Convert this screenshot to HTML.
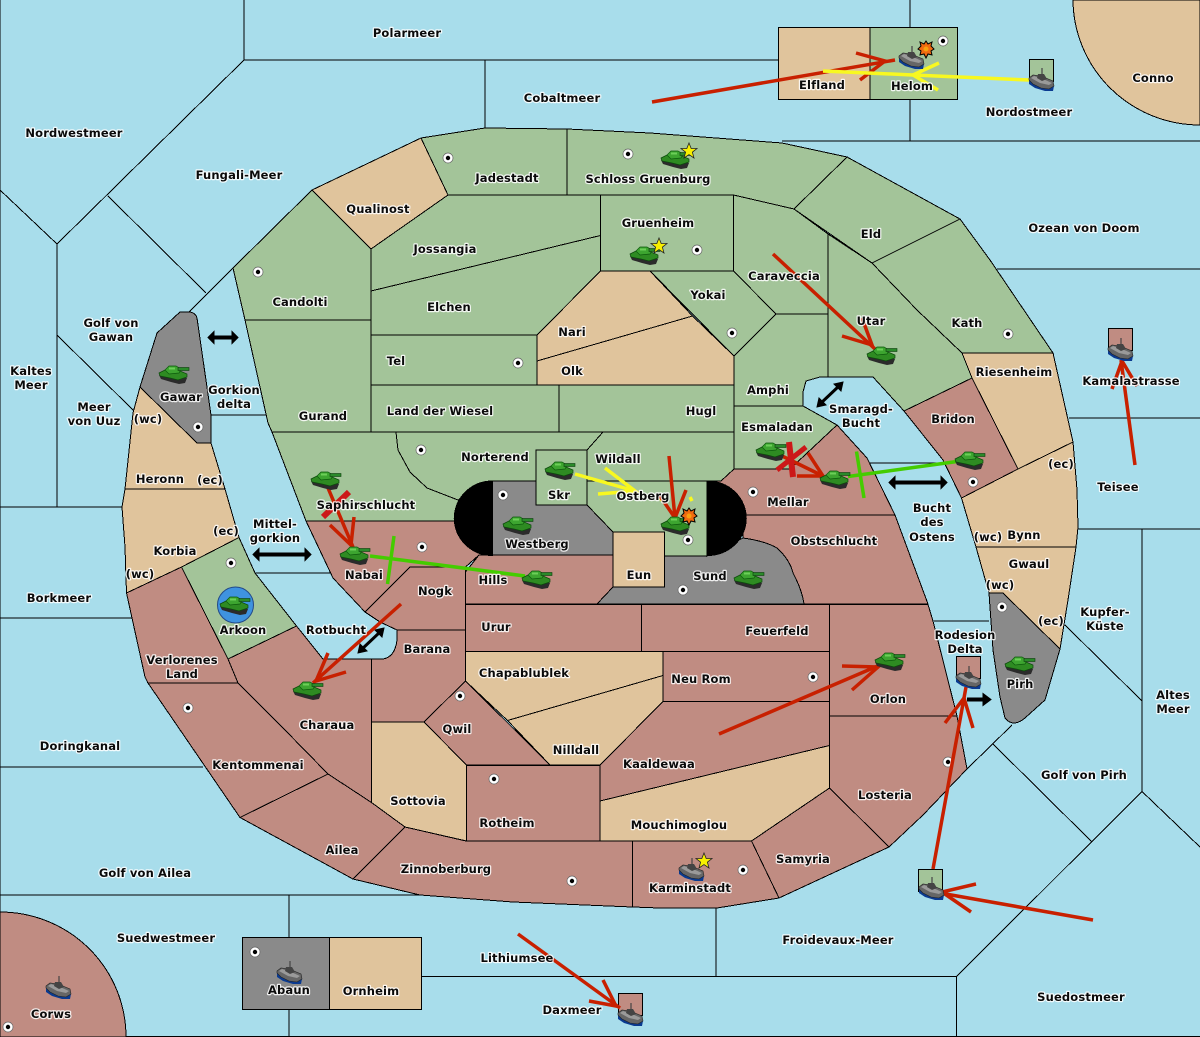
<!DOCTYPE html>
<html><head><meta charset="utf-8"><title>Map</title>
<style>
html,body{margin:0;padding:0;background:#A8DDEB}
svg{display:block}
.m polygon,.m path{stroke:#000;stroke-width:1;stroke-linejoin:miter}
.m{shape-rendering:crispEdges}
.g{fill:#A3C499}.t{fill:#E0C49C}.r{fill:#C08C82}.k{fill:#8A8A8A}.b{fill:#000}
.s line,.s polyline{fill:none;stroke:#000;stroke-width:1}
text{font-family:"DejaVu Sans","Liberation Sans",sans-serif;font-size:11.5px;font-weight:bold;text-anchor:middle;fill:#0a0a0a;stroke:#fff;stroke-width:2.4px;stroke-opacity:.85;paint-order:stroke;stroke-linejoin:round;letter-spacing:.15px}
.red{stroke:#C82000;stroke-width:3.5;fill:none}
.yel{stroke:#F8F820;stroke-width:3.5;fill:none}
.grn{stroke:#44CC00;stroke-width:3.5;fill:none}
</style></head>
<body>
<svg width="1200" height="1037" viewBox="0 0 1200 1037" xmlns="http://www.w3.org/2000/svg">
<defs>
<g id="tank">
<polygon points="-15,1 -13,5 -3,8 5,10 11,9 13,4 0,0" fill="#2b2b2b"/>
<polygon points="-15,-1 -9,-4 6,-3 13,0 13,3 4,6 -4,4 -14,2" fill="#2E8B22" stroke="#0c4a0c" stroke-width=".7"/>
<polygon points="-9,-4 -5,-8 2,-8 7,-5 5,-1 -5,0" fill="#3DA530" stroke="#0c5a0c" stroke-width=".7"/>
<rect x="4" y="-6.5" width="11" height="3" fill="#2A8A2A" stroke="#0c3c0c" stroke-width=".6"/>
<rect x="-5" y="-6.5" width="6" height="2" fill="#6CCF58"/>
</g>
<g id="ship">
<polygon points="-12,0 -12,4 -6,8 4,11 12,11 13,6" fill="#0A3A90"/>
<polygon points="-12,-2 -8,-5 0,-4 12,1 13,6 8,9 0,8 -8,4 -12,0" fill="#666" stroke="#222" stroke-width=".6"/>
<polygon points="-10,-2 -7,-4 2,-1 11,3 8,5 -1,3" fill="#9a9a9a"/>
<polygon points="-3,-6 3,-6 6,-1 1,1 -4,-2" fill="#444"/>
<line x1="1" y1="-12" x2="1" y2="-5" stroke="#444" stroke-width="1.2"/>
</g>
<g id="dot"><circle r="5" fill="#fff" stroke="#666" stroke-width=".7"/><circle r="2.2" fill="#000"/></g>
<polygon id="star" points="0,-8 2.2,-2.5 8,-2.5 3.4,1.2 5,7 0,3.6 -5,7 -3.4,1.2 -8,-2.5 -2.2,-2.5" fill="#F8F000" stroke="#222" stroke-width=".8"/>
<g id="boom"><polygon points="0,-8 2,-5 6,-7 5,-3 8,0 5,2 6,6 2,5 0,9 -2,5 -6,6 -5,2 -8,0 -5,-3 -6,-7 -2,-5" fill="#F06A10" stroke="#000" stroke-width="1"/><circle r="2.5" fill="#F8A010"/></g>
</defs>

<rect width="1200" height="1037" fill="#A8DDEB"/>

<!-- sea borders -->
<g class="s m">
<polyline points="244,0 244,60 778,60"/><line x1="244" y1="60" x2="57" y2="244"/>
<line x1="485" y1="60" x2="485" y2="128"/>
<line x1="910" y1="0" x2="910" y2="27"/><line x1="910" y1="99" x2="910" y2="141"/>
<polyline points="782,141 1200,141"/>
<polyline points="0,190 57,244 57,507"/>
<line x1="108" y1="196" x2="206" y2="293"/>
<line x1="233" y1="268" x2="189" y2="312"/>
<line x1="57" y1="335" x2="135" y2="412"/>
<line x1="0" y1="507" x2="122" y2="507"/>
<line x1="0" y1="618" x2="132" y2="618"/>
<line x1="0" y1="767" x2="203" y2="767"/>
<line x1="0" y1="895" x2="420" y2="895"/>
<line x1="289" y1="895" x2="289" y2="937"/><line x1="289" y1="1009" x2="289" y2="1037"/>
<polyline points="421,976.5 956.5,976.5 956.5,1037"/>
<line x1="716" y1="908" x2="716" y2="976"/>
<line x1="956.5" y1="976.5" x2="1142" y2="791.5"/>
<line x1="1142" y1="791.5" x2="1200" y2="847"/>
<line x1="1091.5" y1="841.5" x2="993" y2="744"/>
<line x1="1012" y1="725" x2="967" y2="769"/>
<line x1="1065" y1="625" x2="1142" y2="701"/>
<line x1="1142" y1="529" x2="1142" y2="792"/>
<line x1="1078" y1="529" x2="1200" y2="529"/>
<line x1="1069" y1="418" x2="1200" y2="418"/>
<line x1="997" y1="269" x2="1200" y2="269"/>
<line x1="211" y1="415" x2="266" y2="415"/>
<line x1="255" y1="573" x2="331" y2="573"/>
<line x1="870" y1="463" x2="943" y2="463"/>
<line x1="934" y1="621" x2="989" y2="621"/>
<line x1="0" y1="0" x2="0" y2="1037"/>
<line x1="0" y1="1036.5" x2="1200" y2="1036.5"/>
</g>

<!-- land -->
<g class="m">
<path class="t" d="M1073,0 A127,126 0 0 0 1200,125 L1200,0 Z" style="stroke:#000"/>
<path class="r" d="M0,912 A126,125 0 0 1 126,1037 L0,1037 Z"/>

<polygon class="g" points="421,138 485,128 567,129 567,195 448,195"/>
<polygon class="t" points="312,190 421,138 448,195 371,249"/>
<polygon class="g" points="567,129 650,133 782,143 847,157 794,209 733,195 567,195"/>
<polygon class="g" points="233,268 312,190 371,249 371,320 245,320"/>
<polygon class="g" points="245,320 371,320 371,432 272,432 268,423"/>
<polygon class="g" points="448,195 600.5,195 600.5,235.5 371,291 371,249"/>
<polygon class="g" points="371,291 600.5,235.5 600.5,271 537,335 371,335"/>
<polygon class="g" points="600.5,195 733.5,195 733.5,271 600.5,271"/>
<polygon class="g" points="371,335 537,335 537,385 371,385"/>
<polygon class="t" points="600.5,271 650,271 692.5,316 537,361 537,335"/>
<polygon class="t" points="537,361 692.5,316 734,356 734,385 537,385"/>
<polygon class="g" points="650,271 733.5,271 776,314 734,356"/>
<polygon class="g" points="733.5,195 794,209 828,234 828,314 776,314 733.5,271"/>
<polygon class="g" points="794,209 847,157 960,219 872,263"/>
<polygon class="g" points="828,234 872,263 917,310 962,353 972,378 904,411 873,377 828,377"/>
<polygon class="g" points="872,263 960,219 990,260 1053,353 962,353 917,310"/>
<polygon class="t" points="962,353 1053,353 1073,442 1018,469 972,378"/>
<polygon class="r" points="972,378 1018,469 961.5,498 943,460 904,411"/>
<polygon class="t" points="961.5,498 1018,469 1073,442 1077,490 1078,527 1076,547 976,547"/>
<polygon class="t" points="976,547 1076,547 1068,600 1060,649 1003,593 989,593"/>
<path class="k" d="M989,593 L1003,593 L1060,649 L1045,700 L1025,718 Q1013,728 1005,718 L1000,697 L993,650 Z"/>
<polygon class="g" points="734,356 776,314 828,314 828,377 820,377 806,381 803,392 803,406 734,406"/>
<polygon class="g" points="734,406 803,406 837,425 790,469 734,469"/>
<polygon class="g" points="371,385 559,385 559,432 371,432"/>
<polygon class="g" points="559,385 734,385 734,432 559,432"/>
<polygon class="g" points="603,432 734,432 734,469 721,481 587,481 587,450"/>
<path class="g" d="M272,432 L396,432 Q398,450 410,472 Q420,484 458,500 L470,510 L470,521 L306,521 Z"/>
<polygon class="g" points="396,432 603,432 587,450 536,450 536,481 492,481 458,500 427,488 410,472 398,450"/>
<polygon class="g" points="536,450 587,450 587,505 536,505"/>
<polygon class="k" points="492,481 536,481 536,505 587,505 613,532 613,555 492,555"/>
<polygon class="g" points="587,481 707,481 707,556 664.5,556 664.5,532 613,532 587,505"/>
<polygon class="t" points="613,532 664.5,532 664.5,587 613,587"/>
<path class="k" d="M664.5,556 L707,556 L743,538 Q765,541 777,548 Q790,560 793,573 Q802,590 804,604 L597,604 L613,587 L664.5,587 Z"/>
<polygon class="r" points="707,481 721,481 734,469 790,469 837,425 867,458 895,515 742,515 707,556"/>
<path class="r" d="M742,515 L895,515 L928,604 L804,604 Q802,590 793,573 Q790,560 777,548 Q765,541 743,538 Z"/>
<polygon class="r" points="479,555 613,555 613,587 597,604 465.5,604 465.5,572"/>
<polygon class="r" points="306,521 470,521 492,555 479,555 465.5,567 410,567 365,612 333,578"/>
<polygon class="r" points="410,567 465.5,567 465.5,630 397,630 380,622 365,612"/>
<rect class="r" x="465.5" y="604.5" width="176" height="47" style="stroke:#000"/>
<rect class="r" x="641.5" y="604.5" width="188" height="47" style="stroke:#000"/>
<polygon class="t" points="465.5,651.5 663,651.5 663,675.5 507.5,720.5 465.5,681"/>
<polygon class="t" points="507.5,720.5 663,675.5 663,701.5 600,765 550,765"/>
<rect class="r" x="663" y="651.5" width="166.5" height="50" style="stroke:#000"/>
<polygon class="r" points="663,701.5 829.5,701.5 829.5,745.5 600,801 600,765"/>
<polygon class="t" points="600,801 829.5,745.5 829.5,788 751.5,841 600,841"/>
<rect class="r" x="466.5" y="765.5" width="133.5" height="76" style="stroke:#000"/>
<polygon class="r" points="465.5,681 550,765 466.5,765 424,722"/>
<path class="r" d="M397,630 L465.5,630 L465.5,681 L424,722 L371.5,722 L371.5,659 L383,659 Q395,657 397,640 Z"/>
<polygon class="t" points="371.5,722 424,722 466.5,765 466.5,841 405,827 371.5,802.5"/>
<polygon class="r" points="228,659 296.5,626 323,659 371.5,659 371.5,802.5 328,774 283,728 238,683"/>
<polygon class="g" points="181.5,567 239,537.5 255,573 296.5,626 228,659"/>
<polygon class="r" points="126.5,593 181.5,567 228,659 238,683 148,683 145,677"/>
<polygon class="r" points="148,683 238,683 283,728 328,774 240,817.5"/>
<polygon class="r" points="240,817.5 328,774 371.5,802.5 405,827 353,879"/>
<polygon class="r" points="353,879 405,827 466,841 632.5,841 632.5,907 513,902 420,895"/>
<polygon class="r" points="632.5,841 751.5,841 779,898 717,908 660,908 632.5,907"/>
<polygon class="r" points="751.5,841 829.5,788 889,847 779,898"/>
<polygon class="r" points="829.5,716 957,716 967,769 923,815 889,847 829.5,788"/>
<polygon class="r" points="829.5,604.5 928,604.5 933,621 957,716 829.5,716"/>
<path class="k" d="M140,387 L157,333 L180,312 L190,312 Q196,313 197,318 L211,415 L211,443 L197,443 Z"/>
<polygon class="t" points="140,387 197,443 211,443 225,489 125,489 133,413"/>
<polygon class="t" points="125,489 225,489 239,537.5 181.5,567 126.5,593 125,547 122,507"/>

<!-- black semicircles -->
<path class="b" d="M492.5,481 A38,37 0 0 0 492.5,555.5 Z"/>
<path class="b" d="M707.5,481 A38.5,37 0 0 1 707.5,555.5 Z"/>

<!-- boxes -->
<rect class="t" x="778.5" y="27.5" width="91.5" height="72" style="stroke:#000"/>
<rect class="g" x="870" y="27.5" width="87.5" height="72" style="stroke:#000"/>
<rect class="k" x="242.5" y="937.5" width="87" height="72" style="stroke:#000"/>
<rect class="t" x="329.5" y="937.5" width="92" height="72" style="stroke:#000"/>
<rect class="g" x="1029.5" y="59.5" width="24" height="22" style="stroke:#000"/>
<rect class="r" x="1108.5" y="328.5" width="24" height="22" style="stroke:#000"/>
<rect class="r" x="618.5" y="993.5" width="24" height="22" style="stroke:#000"/>
<rect class="r" x="956.5" y="656.5" width="24" height="22" style="stroke:#000"/>
<rect class="g" x="918.5" y="869.5" width="24" height="22" style="stroke:#000"/>
</g>

<!-- supply centers -->
<use href="#dot" x="448" y="158"/><use href="#dot" x="628" y="154"/><use href="#dot" x="697" y="250"/>
<use href="#dot" x="258" y="272"/><use href="#dot" x="518" y="363"/><use href="#dot" x="732" y="333"/>
<use href="#dot" x="1008" y="334"/><use href="#dot" x="198" y="427"/><use href="#dot" x="421" y="450"/>
<use href="#dot" x="503" y="495"/><use href="#dot" x="422" y="547"/><use href="#dot" x="753" y="492"/>
<use href="#dot" x="973" y="482"/><use href="#dot" x="688" y="540"/><use href="#dot" x="683" y="590"/>
<use href="#dot" x="1002" y="607"/><use href="#dot" x="231" y="563"/><use href="#dot" x="813" y="677"/>
<use href="#dot" x="460" y="696"/><use href="#dot" x="948" y="762"/><use href="#dot" x="494" y="779"/>
<use href="#dot" x="188" y="708"/><use href="#dot" x="572" y="881"/><use href="#dot" x="743" y="870"/>
<use href="#dot" x="255" y="952"/><use href="#dot" x="8" y="1027"/><use href="#dot" x="943" y="41"/>

<!-- coast arrows -->
<g fill="#000" stroke="#000">
<g stroke-width="4" fill="none">
<line x1="212" y1="337.5" x2="234" y2="337.5"/>
<line x1="257" y1="554.5" x2="307" y2="554.5"/>
<line x1="893" y1="482.5" x2="943" y2="482.5"/>
<line x1="967" y1="699.5" x2="984" y2="699.5"/>
</g>
<polygon points="208,337.5 214,331.5 214,343.5"/><polygon points="238,337.5 232,331.5 232,343.5"/>
<polygon points="253,554.5 259,548.5 259,560.5"/><polygon points="311,554.5 305,548.5 305,560.5"/>
<polygon points="889,482.5 895,476.5 895,488.5"/><polygon points="947,482.5 941,476.5 941,488.5"/>
<polygon points="991,699.5 983,693.5 983,705.5"/>
<g stroke-width="3" fill="none">
<line x1="361" y1="650" x2="380" y2="632"/>
<line x1="820" y1="404" x2="839" y2="386"/>
</g>
<polygon points="358,653 360,644 367,651"/><polygon points="384,628 382,637 375,630"/>
<polygon points="817,407 819,398 826,405"/><polygon points="843,382 841,391 834,384"/>
</g>

<!-- blue circle -->
<circle cx="235.5" cy="605" r="18" fill="#3F93E0" stroke="#244a88" stroke-width="1"/>

<!-- orders -->
<g>
<polyline class="red" points="652,102 895,60"/>
<polyline class="red" points="856,53 885,61 860,80"/>
<polyline class="yel" points="1029,80 913,75 823,71"/>
<polyline class="yel" points="939,63 913,75 938,90"/>
<polyline class="red" points="773,254 875,349"/>
<polyline class="red" points="842,336 872,345 862,318"/>
<polyline class="red" points="1135,465 1121,360"/>
<polyline class="red" points="1112,389 1122,361 1137,386"/>
<polyline class="red" points="719,734 880,665"/>
<polyline class="red" points="842,666 878,667 852,690"/>
<polyline class="red" points="933,869 966,687"/>
<polyline class="red" points="945,723 964,698 973,728"/>
<polyline class="red" points="1093,920 940,893"/>
<polyline class="red" points="976,884 942,892 971,912"/>
<polyline class="red" points="518,934 620,1008"/>
<polyline class="red" points="603,980 616,1006 589,1001"/>
<polyline class="red" points="401,604 313,683"/>
<polyline class="red" points="328,653 316,681 346,672"/>
<polyline class="red" points="328,488 353,547"/>
<polyline class="red" points="330,525 351,545 354,517"/>
<line x1="323" y1="517" x2="349" y2="492" stroke="#CC1818" stroke-width="6"/>
<polyline class="red" points="780,455 823,476"/>
<polyline class="red" points="797,476 823,476 808,453"/>
<line x1="789" y1="442" x2="793" y2="477" stroke="#CC1818" stroke-width="6"/>
<line x1="777" y1="470" x2="806" y2="447" stroke="#CC1818" stroke-width="5"/>
<polyline class="yel" points="660,498 664,502"/>
<polyline class="yel" points="690,497 692,501"/>
<polyline class="red" points="669,456 675,518"/>
<polyline class="red" points="660,496 675,518 686,490"/>
<polyline class="yel" points="575,474 635,491"/>
<polyline class="yel" points="605,468 635,491 598,494"/>
<line x1="370" y1="556" x2="525" y2="576" class="grn"/>
<line x1="394" y1="536" x2="387.5" y2="584" class="grn"/>
<line x1="848" y1="476.5" x2="957" y2="461.5" class="grn"/>
<line x1="856.5" y1="451.5" x2="864" y2="498" class="grn"/>
</g>

<!-- units -->
<use href="#tank" x="174" y="374"/><use href="#tank" x="676" y="159"/><use href="#tank" x="645" y="255"/>
<use href="#tank" x="326" y="480"/><use href="#tank" x="355" y="555"/><use href="#tank" x="235" y="605"/>
<use href="#tank" x="308" y="690"/><use href="#tank" x="882" y="355"/><use href="#tank" x="771" y="451"/>
<use href="#tank" x="835" y="479"/><use href="#tank" x="970" y="460"/><use href="#tank" x="560" y="470"/>
<use href="#tank" x="676" y="525"/><use href="#tank" x="518" y="525"/><use href="#tank" x="537" y="579"/>
<use href="#tank" x="749" y="579"/><use href="#tank" x="890" y="661"/><use href="#tank" x="1020" y="665"/>
<use href="#ship" x="911" y="58"/><use href="#ship" x="1041" y="80"/><use href="#ship" x="1120" y="350"/>
<use href="#ship" x="968" y="678"/><use href="#ship" x="931" y="889"/><use href="#ship" x="630" y="1015"/>
<use href="#ship" x="691" y="870"/><use href="#ship" x="289" y="973"/><use href="#ship" x="58" y="988"/>
<use href="#star" x="689" y="151"/><use href="#star" x="659" y="246"/><use href="#star" x="704" y="861"/>
<use href="#boom" x="926" y="49"/><use href="#boom" x="689" y="516"/>

<!-- labels -->
<g>
<text x="407" y="37">Polarmeer</text><text x="562" y="102">Cobaltmeer</text>
<text x="74" y="137">Nordwestmeer</text><text x="239" y="179">Fungali-Meer</text>
<text x="1153" y="82">Conno</text><text x="1029" y="116">Nordostmeer</text>
<text x="822" y="89">Elfland</text><text x="912" y="90">Helom</text>
<text x="1084" y="232">Ozean von Doom</text>
<text x="507" y="182">Jadestadt</text><text x="648" y="183">Schloss Gruenburg</text>
<text x="378" y="213">Qualinost</text><text x="658" y="227">Gruenheim</text>
<text x="871" y="238">Eld</text><text x="445" y="253">Jossangia</text>
<text x="784" y="280">Caraveccia</text><text x="708" y="299">Yokai</text>
<text x="300" y="306">Candolti</text><text x="449" y="311">Elchen</text>
<text x="871" y="325">Utar</text><text x="967" y="327">Kath</text>
<text x="572" y="336">Nari</text><text x="396" y="365">Tel</text>
<text x="572" y="375">Olk</text><text x="1014" y="376">Riesenheim</text>
<text x="1131" y="385">Kamalastrasse</text>
<text x="768" y="394">Amphi</text><text x="181" y="401">Gawar</text>
<text x="234" y="394">Gorkion</text><text x="234" y="408">delta</text>
<text x="440" y="415">Land der Wiesel</text><text x="701" y="415">Hugl</text>
<text x="323" y="420">Gurand</text><text x="953" y="423">Bridon</text>
<text x="861" y="413">Smaragd-</text><text x="861" y="427">Bucht</text>
<text x="777" y="431">Esmaladan</text><text x="495" y="461">Norterend</text>
<text x="618" y="463">Wildall</text><text x="559" y="499">Skr</text>
<text x="643" y="500">Ostberg</text><text x="788" y="506">Mellar</text>
<text x="1118" y="491">Teisee</text>
<text x="366" y="509">Saphirschlucht</text>
<text x="932" y="512">Bucht</text><text x="932" y="526">des</text><text x="932" y="541">Ostens</text>
<text x="1024" y="539">Bynn</text><text x="537" y="548">Westberg</text>
<text x="834" y="545">Obstschlucht</text><text x="275" y="528">Mittel-</text><text x="275" y="542">gorkion</text>
<text x="1029" y="568">Gwaul</text><text x="175" y="555">Korbia</text>
<text x="364" y="579">Nabai</text><text x="639" y="579">Eun</text><text x="710" y="580">Sund</text>
<text x="493" y="584">Hills</text><text x="435" y="595">Nogk</text>
<text x="59" y="602">Borkmeer</text><text x="1105" y="616">Kupfer-</text><text x="1105" y="630">K&#252;ste</text>
<text x="496" y="631">Urur</text><text x="777" y="635">Feuerfeld</text>
<text x="243" y="634">Arkoon</text><text x="336" y="634">Rotbucht</text>
<text x="965" y="639">Rodesion</text><text x="965" y="653">Delta</text>
<text x="427" y="653">Barana</text><text x="524" y="677">Chapablublek</text>
<text x="701" y="683">Neu Rom</text><text x="1020" y="688">Pirh</text>
<text x="182" y="664">Verlorenes</text><text x="182" y="678">Land</text>
<text x="1173" y="699">Altes</text><text x="1173" y="713">Meer</text>
<text x="888" y="703">Orlon</text><text x="327" y="729">Charaua</text>
<text x="457" y="733">Qwil</text><text x="80" y="750">Doringkanal</text>
<text x="576" y="754">Nilldall</text><text x="659" y="768">Kaaldewaa</text>
<text x="258" y="769">Kentommenai</text><text x="1084" y="779">Golf von Pirh</text>
<text x="885" y="799">Losteria</text><text x="418" y="805">Sottovia</text>
<text x="507" y="827">Rotheim</text><text x="679" y="829">Mouchimoglou</text>
<text x="342" y="854">Ailea</text><text x="803" y="863">Samyria</text>
<text x="446" y="873">Zinnoberburg</text><text x="145" y="877">Golf von Ailea</text>
<text x="690" y="892">Karminstadt</text><text x="838" y="944">Froidevaux-Meer</text>
<text x="166" y="942">Suedwestmeer</text><text x="517" y="962">Lithiumsee</text>
<text x="289" y="994">Abaun</text><text x="371" y="995">Ornheim</text>
<text x="1081" y="1001">Suedostmeer</text><text x="572" y="1014">Daxmeer</text>
<text x="51" y="1018">Corws</text>
<text x="111" y="327">Golf von</text><text x="111" y="341">Gawan</text>
<text x="31" y="375">Kaltes</text><text x="31" y="389">Meer</text>
<text x="94" y="411">Meer</text><text x="94" y="425">von Uuz</text>
<g style="font-size:9.5px">
<text x="148" y="423">(wc)</text><text x="210" y="484">(ec)</text>
<text x="226" y="535">(ec)</text><text x="140" y="578">(wc)</text>
<text x="1061" y="468">(ec)</text><text x="988" y="541">(wc)</text>
<text x="1000" y="589">(wc)</text><text x="1051" y="625">(ec)</text>
</g>
<text x="160" y="483">Heronn</text>
</g>
</svg>
</body></html>
